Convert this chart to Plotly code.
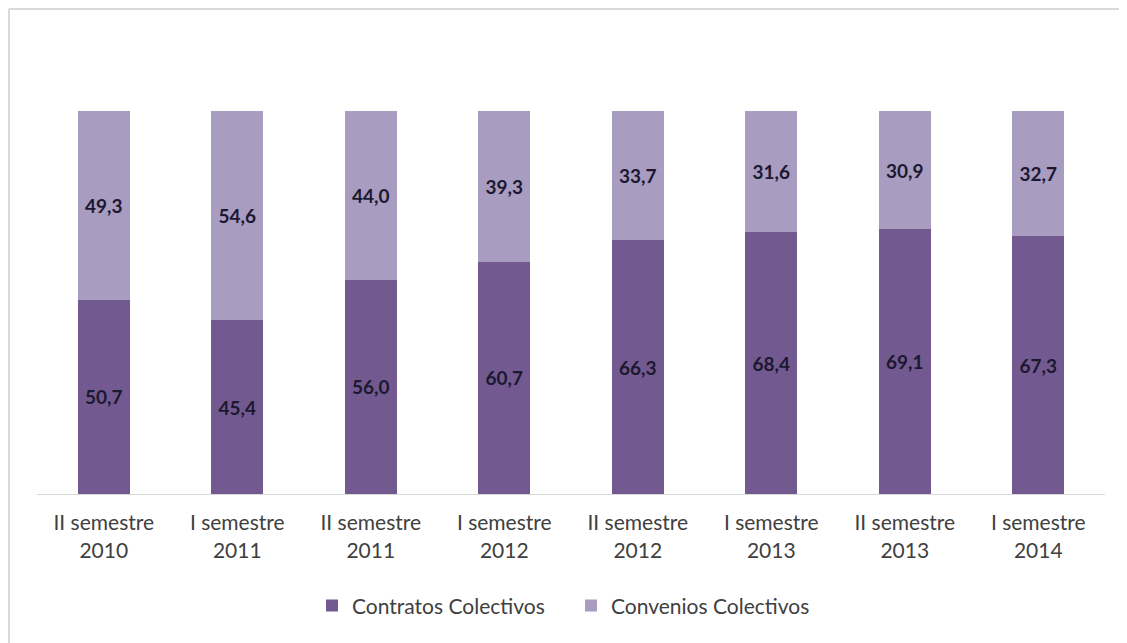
import plotly.graph_objects as go

categories = ["II semestre<br>2010", "I semestre<br>2011", "II semestre<br>2011", "I semestre<br>2012",
              "II semestre<br>2012", "I semestre<br>2013", "II semestre<br>2013", "I semestre<br>2014"]
contratos = [50.7, 45.4, 56.0, 60.7, 66.3, 68.4, 69.1, 67.3]
convenios = [49.3, 54.6, 44.0, 39.3, 33.7, 31.6, 30.9, 32.7]

def fmt(v):
    return f"{v:.1f}".replace(".", ",")

FONT = "Lato, Open Sans, sans-serif"
LABEL_FONT = dict(family=FONT, size=19, color="#1c1830", weight="bold")

fig = go.Figure()
fig.add_trace(go.Bar(
    x=categories, y=contratos, name="Contratos Colectivos",
    marker=dict(color="#725a91", line=dict(width=0)),
    text=[fmt(v) for v in contratos], textposition="inside", insidetextanchor="middle",
    textfont=LABEL_FONT, textangle=0,
))
fig.add_trace(go.Bar(
    x=categories, y=convenios, name="Convenios Colectivos",
    marker=dict(color="#a89cc1", line=dict(width=0)),
    text=[fmt(v) for v in convenios], textposition="inside", insidetextanchor="middle",
    textfont=LABEL_FONT, textangle=0,
))

fig.update_layout(
    barmode="stack",
    bargap=0.61,
    width=1119, height=635,
    margin=dict(l=29, r=22, t=103, b=149),
    paper_bgcolor="white", plot_bgcolor="white",
    font=dict(family=FONT, size=21, color="#404040"),
    uniformtext=dict(mode=False),
    legend=dict(orientation="h", x=0.5, xanchor="center", y=-0.292, yanchor="middle",
                font=dict(family=FONT, size=21, color="#404040"), itemwidth=30,
                entrywidth=214, entrywidthmode="pixels",
                traceorder="normal"),
    xaxis=dict(showline=True, linecolor="#d9d9d9", linewidth=1, ticks="",
               ticklabelstandoff=10,
               tickfont=dict(family=FONT, size=21, color="#404040"), fixedrange=True),
    yaxis=dict(range=[0, 100], visible=False, showgrid=False, fixedrange=True),
    shapes=[
        dict(type="line", xref="paper", yref="paper", x0=-0.0262, x1=1.03, y0=1.266, y1=1.266,
             line=dict(color="#d9d9d9", width=2)),
        dict(type="line", xref="paper", yref="paper", x0=-0.0262, x1=-0.0262, y0=1.266, y1=-0.4,
             line=dict(color="#d9d9d9", width=2)),
    ],
)

fig.write_html("out.html")
